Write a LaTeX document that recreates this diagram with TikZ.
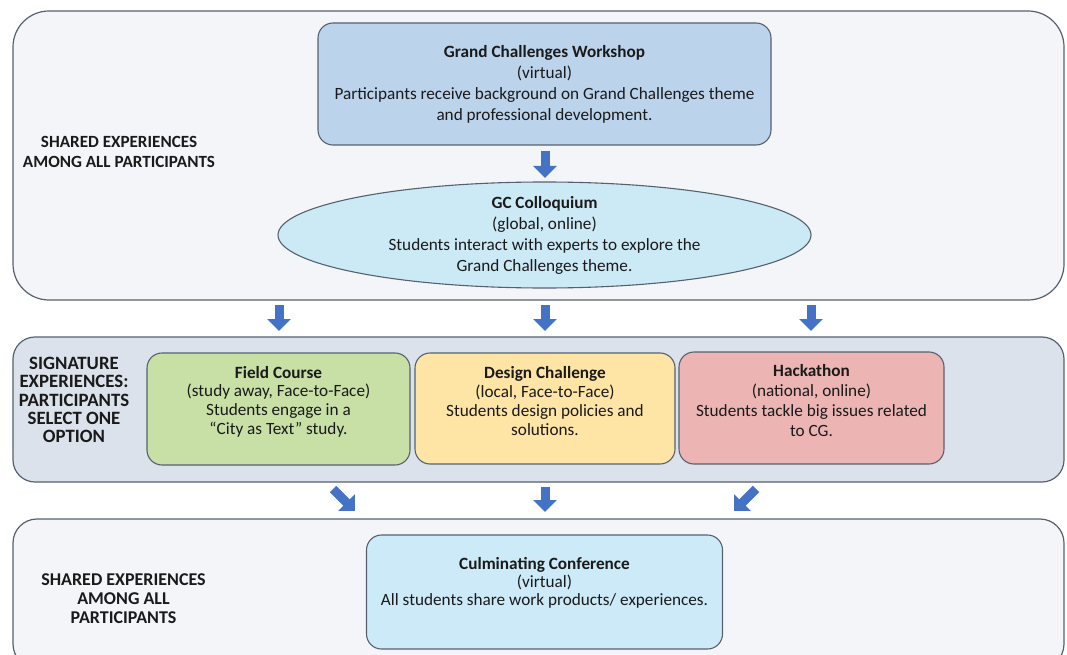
\documentclass[tikz,border=0pt]{standalone}
\usepackage{fontspec}
\setmainfont{Carlito}
\usetikzlibrary{arrows.meta,shapes.geometric}
\definecolor{edge}{HTML}{56616F}
\definecolor{panelfill}{HTML}{F3F5F8}
\definecolor{sigfill}{HTML}{DCE2EB}
\definecolor{wsfill}{HTML}{BCD3EC}
\definecolor{gcfill}{HTML}{CCE9F6}
\definecolor{fieldfill}{HTML}{C8E0A6}
\definecolor{designfill}{HTML}{FFE5A5}
\definecolor{hackfill}{HTML}{EDB4B4}
\definecolor{culmfill}{HTML}{CDEAF8}
\definecolor{arrowblue}{HTML}{4472C4}
\definecolor{ink}{HTML}{1A1A1A}
\tikzset{
  panel/.style={draw=edge, line width=1.2pt, fill=panelfill, rectangle, inner sep=0pt},
  card/.style={draw=edge, line width=1.1pt, rectangle, rounded corners=15pt, inner sep=0pt},
  bigtext/.style={align=center, text=ink, font=\fontsize{17.2}{21}\selectfont, inner sep=0pt},
  smalltext/.style={align=center, text=ink, font=\fontsize{17.2}{18.7}\selectfont, inner sep=0pt},
  sidelabel/.style={align=center, text=ink, font=\bfseries\fontsize{17.1}{20}\selectfont, inner sep=0pt},
  barrow/.style={draw=arrowblue, line width=9pt, -{Triangle[width=23pt,length=12pt]}}
}
\begin{document}
\begin{tikzpicture}[x=1pt,y=-1pt]
\useasboundingbox (0,0) rectangle (1067,655);
\fill[white] (0,0) rectangle (1067,655);

% panels
\node[panel, rounded corners=36pt, minimum width=1051pt, minimum height=289pt] (row1) at (538.5,155.5) {};
\node[panel, fill=sigfill, rounded corners=22pt, minimum width=1051pt, minimum height=145pt] (row2) at (538.5,409.5) {};
\node[panel, rounded corners=24pt, minimum width=1051pt, minimum height=149pt] (row3) at (538.5,593.5) {};

% side labels
\node[sidelabel] (lab1) at (119,152) {SHARED EXPERIENCES\\AMONG ALL PARTICIPANTS};
\node[sidelabel, font=\bfseries\fontsize{18.8}{18.4}\selectfont] (lab2) at (74,400) {SIGNATURE\\EXPERIENCES:\\PARTICIPANTS\\SELECT ONE\\OPTION};
\node[sidelabel, font=\bfseries\fontsize{18}{19}\selectfont] (lab3) at (123.5,599) {SHARED EXPERIENCES\\AMONG ALL\\PARTICIPANTS};

% workshop
\node[card, fill=wsfill, minimum width=453pt, minimum height=122pt] (ws) at (544.5,84) {};
\node[bigtext] (wst) at (544.5,84) {\textbf{Grand Challenges Workshop}\\(virtual)\\Participants receive background on Grand Challenges theme\\and professional development.};

% colloquium
\node[draw=edge, line width=1.1pt, fill=gcfill, ellipse, inner sep=0pt, minimum width=533pt, minimum height=106pt] (gc) at (544.5,235) {};
\node[bigtext] (gct) at (544.5,235) {\textbf{GC Colloquium}\\(global, online)\\Students interact with experts to explore the\\Grand Challenges theme.};

% signature experiences
\node[card, fill=fieldfill, minimum width=263pt, minimum height=112pt] (field) at (278.5,409) {};
\node[smalltext] (fieldt) at (278.5,401.5) {\textbf{Field Course}\\(study away, Face-to-Face)\\Students engage in a\\\char"201C City as Text\char"201D{} study.};
\node[card, fill=designfill, minimum width=260pt, minimum height=111pt] (design) at (545,408.5) {};
\node[smalltext] (designt) at (545,401) {\textbf{Design Challenge}\\(local, Face-to-Face)\\Students design policies and\\solutions.};
\node[card, fill=hackfill, minimum width=265pt, minimum height=112pt] (hack) at (811.5,408) {};
\node[smalltext, font=\fontsize{17.2}{20}\selectfont] (hackt) at (811.5,401) {\textbf{Hackathon}\\(national, online)\\Students tackle big issues related\\to CG.};

% culminating
\node[card, fill=culmfill, minimum width=356pt, minimum height=114pt] (culm) at (544.5,592) {};
\node[smalltext, font=\fontsize{17.2}{18}\selectfont] (culmt) at (544.5,583) {\textbf{Culminating Conference}\\(virtual)\\All students share work products/ experiences.};

% arrow anchors
\coordinate (a0s) at (545,151); \coordinate (a0e) at (545,178);
\coordinate (a1s) at (279,305); \coordinate (a1e) at (279,331);
\coordinate (a2s) at (545,305); \coordinate (a2e) at (545,331);
\coordinate (a3s) at (811,305); \coordinate (a3e) at (811,331);
\coordinate (b1s) at (333,489); \coordinate (b1e) at (355,511);
\coordinate (b2s) at (545,487); \coordinate (b2e) at (545,512);
\coordinate (b3s) at (756,489); \coordinate (b3e) at (734,511);

\draw[barrow] (a0s) -- (a0e);
\draw[barrow] (a1s) -- (a1e);
\draw[barrow] (a2s) -- (a2e);
\draw[barrow] (a3s) -- (a3e);
\draw[barrow] (b1s) -- (b1e);
\draw[barrow] (b2s) -- (b2e);
\draw[barrow] (b3s) -- (b3e);
\end{tikzpicture}
\end{document}
